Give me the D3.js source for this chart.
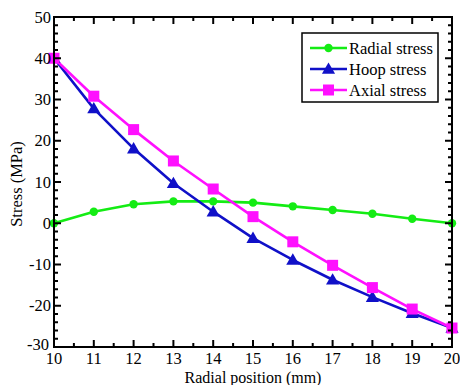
<!DOCTYPE html>
<html><head><meta charset="utf-8">
<script src="https://cdn.jsdelivr.net/npm/d3@7"></script>
<style>html,body{margin:0;padding:0;background:#fff;}svg{display:block;}</style>
</head><body>
<svg id="c" width="460" height="385"></svg>
<script>
const positions = [10, 11, 12, 13, 14, 15, 16, 17, 18, 19, 20];
const radialStress = [0, 2.8, 4.6, 5.3, 5.3, 5.0, 4.1, 3.2, 2.3, 1.1, 0];
const hoopStress = [40, 27.8, 18.1, 9.7, 2.8, -3.6, -8.9, -13.7, -17.9, -21.8, -25.4];
const axialStress = [40, 30.8, 22.7, 15.1, 8.3, 1.6, -4.5, -10.2, -15.6, -20.8, -25.4];
const seriesNames = ["Radial stress", "Hoop stress", "Axial stress"];
const seriesColors = ["#14ec14", "#1010c8", "#ff10ff"];
const seriesMarkers = ["circle", "triangle", "square"];
const xTicks = [10, 11, 12, 13, 14, 15, 16, 17, 18, 19, 20];
const yTicks = [-30, -20, -10, 0, 10, 20, 30, 40, 50];

const svg = d3.select("#c");
const L = 54, R = 452, T = 17, B = 347;
const x = d3.scaleLinear().domain([10, 20]).range([L, R]);
const y = d3.scaleLinear().domain([-30, 50]).range([B, T]);
const font = "'Liberation Serif', 'Times New Roman', serif";
const fs = 16.5;

const series = [radialStress, hoopStress, axialStress];

// lines
const line = d3.line().x((d, i) => x(positions[i])).y(d => y(d));
series.forEach((s, k) => {
  svg.append("path").datum(s).attr("d", line).attr("fill", "none")
    .attr("stroke", seriesColors[k]).attr("stroke-width", 2.6).attr("stroke-linejoin", "round");
});

function marker(g, type, cx, cy, color) {
  if (type === "circle") {
    g.append("circle").attr("cx", cx).attr("cy", cy).attr("r", 4.2).attr("fill", color);
  } else if (type === "triangle") {
    g.append("path").attr("d", d3.symbol().type(d3.symbolTriangle).size(75)())
      .attr("transform", `translate(${cx},${cy+1})`).attr("fill", color);
  } else {
    g.append("rect").attr("x", cx - 5.5).attr("y", cy - 5.5).attr("width", 11).attr("height", 11).attr("fill", color);
  }
}
series.forEach((s, k) => {
  const g = svg.append("g");
  s.forEach((v, i) => marker(g, seriesMarkers[k], x(positions[i]), y(v), seriesColors[k]));
});

// frame
svg.append("rect").attr("x", L).attr("y", T).attr("width", R - L).attr("height", B - T)
  .attr("fill", "none").attr("stroke", "#000").attr("stroke-width", 2);

// axes ticks (inward) on all sides
const xMinor = d3.range(10.5, 20, 1);
const yMinor = d3.range(-28, 50, 2).filter(v => v % 10 !== 0);
const ax = svg.append("g").attr("stroke", "#000").attr("stroke-width", 2);
xTicks.forEach(v => {
  ax.append("line").attr("x1", x(v)).attr("x2", x(v)).attr("y1", B).attr("y2", B - 7);
  ax.append("line").attr("x1", x(v)).attr("x2", x(v)).attr("y1", T).attr("y2", T + 7);
});
xMinor.forEach(v => {
  ax.append("line").attr("x1", x(v)).attr("x2", x(v)).attr("y1", B).attr("y2", B - 4);
  ax.append("line").attr("x1", x(v)).attr("x2", x(v)).attr("y1", T).attr("y2", T + 4);
});
yTicks.forEach(v => {
  ax.append("line").attr("y1", y(v)).attr("y2", y(v)).attr("x1", L).attr("x2", L + 7);
  ax.append("line").attr("y1", y(v)).attr("y2", y(v)).attr("x1", R).attr("x2", R - 7);
});
yMinor.forEach(v => {
  ax.append("line").attr("y1", y(v)).attr("y2", y(v)).attr("x1", L).attr("x2", L + 4);
  ax.append("line").attr("y1", y(v)).attr("y2", y(v)).attr("x1", R).attr("x2", R - 4);
});

// tick labels
svg.append("g").selectAll("text").data(xTicks).join("text")
  .attr("x", d => x(d)).attr("y", B + 17).attr("text-anchor", "middle")
  .attr("font-family", font).attr("font-size", fs).text(d => d);
svg.append("g").selectAll("text").data(yTicks).join("text")
  .attr("x", d => d === -30 ? L - 5 : L - 3)
  .attr("y", d => y(d) + (d === -30 ? 3 : 5.5)).attr("text-anchor", "end")
  .attr("font-family", font).attr("font-size", fs).text(d => d);

// axis titles
svg.append("text").attr("x", 253).attr("y", 382.5).attr("text-anchor", "middle")
  .attr("font-family", font).attr("font-size", 16).text("Radial position (mm)");
svg.append("text").attr("transform", `translate(22,184) rotate(-90)`)
  .attr("text-anchor", "middle").attr("font-family", font).attr("font-size", fs).text("Stress (MPa)");

// legend
const lg = svg.append("g");
lg.append("rect").attr("x", 302).attr("y", 33).attr("width", 136).attr("height", 69)
  .attr("fill", "#fff").attr("stroke", "#000").attr("stroke-width", 1.5);
seriesNames.forEach((n, k) => {
  const ly = 48 + k * 21;
  lg.append("line").attr("x1", 310).attr("x2", 347).attr("y1", ly).attr("y2", ly)
    .attr("stroke", seriesColors[k]).attr("stroke-width", 2.6);
  marker(lg, seriesMarkers[k], 328.5, ly, seriesColors[k]);
  lg.append("text").attr("x", 349).attr("y", ly + 5.5).attr("font-family", font)
    .attr("font-size", fs).text(n);
});
</script>
</body></html>
